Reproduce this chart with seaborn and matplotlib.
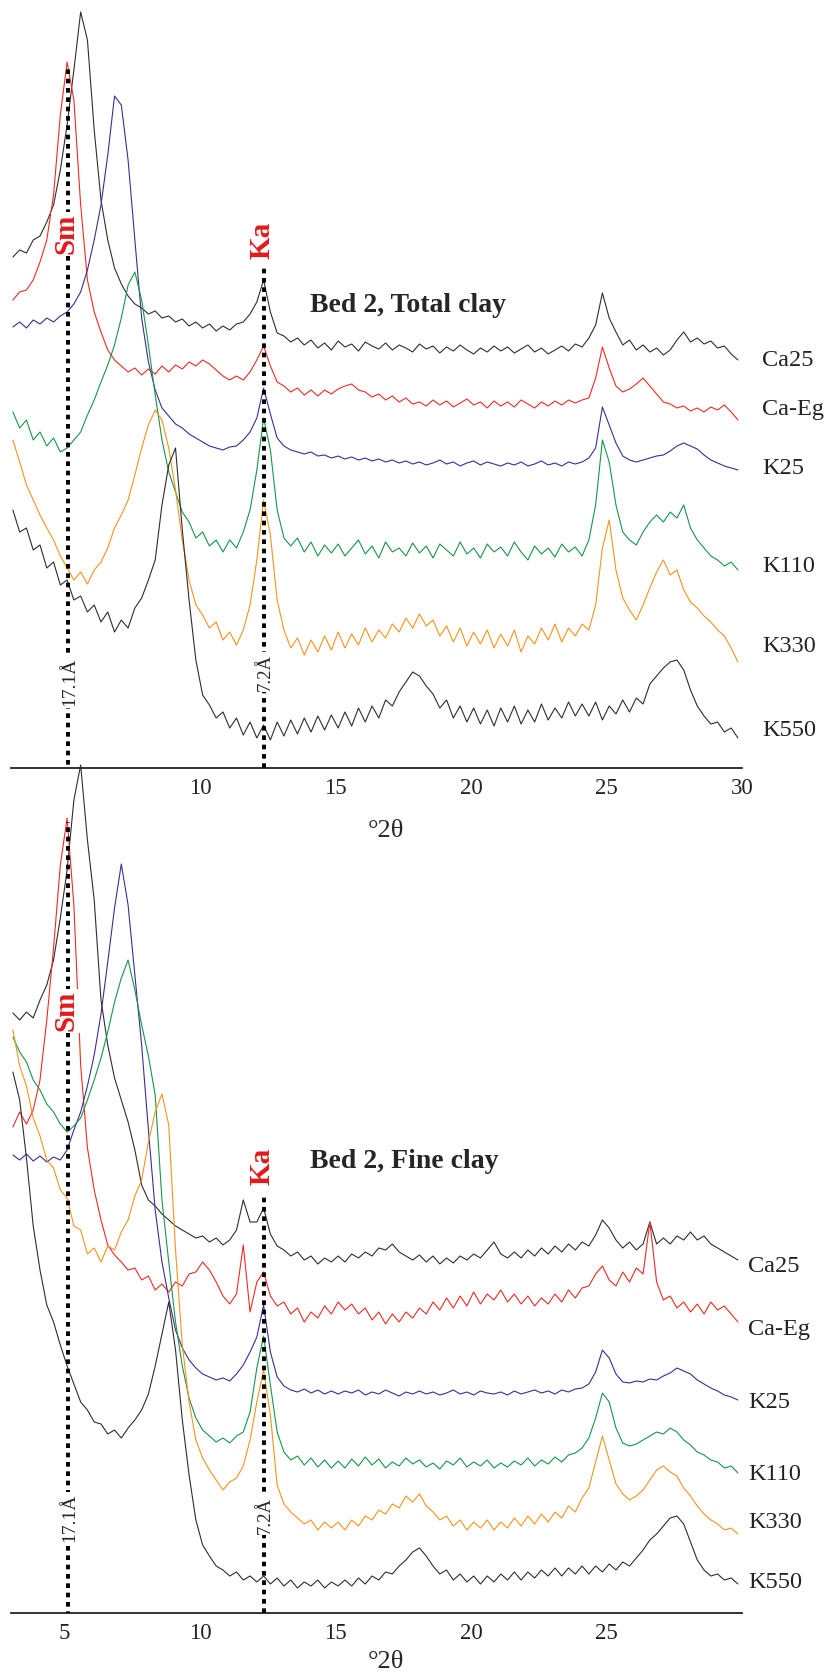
import numpy as np
import pandas as pd
import seaborn as sns
import matplotlib.pyplot as plt
from matplotlib.ticker import MultipleLocator

#%% data (intensity in arbitrary units, offsets included)
two_theta = np.linspace(3.1, 29.85, 108)
samples = ['Ca25', 'Ca-Eg', 'K25', 'K110', 'K330', 'K550']
colors = ['#2e2e2e', '#ee2b22', '#3a2e95', '#17964a', '#f7931e', '#2e2e2e']

# Bed 2, Total clay
total_ca25 = [511, 518, 515, 528, 532, 546, 563, 598, 643, 698, 756, 728,
              638, 568, 528, 500, 484, 472, 464, 460, 454, 457, 450, 452,
              446, 449, 442, 446, 440, 444, 437, 442, 438, 444, 446, 454,
              466, 488, 456, 435, 432, 426, 430, 423, 428, 420, 425, 418,
              427, 421, 424, 417, 426, 422, 419, 425, 418, 423, 420, 416,
              424, 419, 422, 415, 421, 417, 423, 418, 414, 420, 416, 422,
              417, 421, 415, 419, 423, 416, 420, 414, 418, 422, 417, 424,
              421, 430, 443, 475, 450, 436, 423, 428, 418, 423, 416, 420,
              413, 418, 428, 436, 426, 430, 424, 427, 420, 422, 414, 408]
total_caeg = [468, 476, 478, 488, 506, 528, 573, 653, 706, 668, 563, 488,
              456, 436, 418, 408, 402, 396, 400, 393, 399, 394, 402, 396,
              403, 399, 406, 402, 408, 404, 398, 392, 388, 392, 388, 396,
              408, 422, 402, 386, 382, 376, 380, 373, 378, 372, 378, 374,
              379, 382, 384, 378, 376, 371, 374, 368, 372, 366, 370, 364,
              366, 362, 368, 363, 367, 361, 365, 369, 363, 366, 360, 367,
              362, 366, 361, 368, 364, 360, 366, 362, 367, 363, 368, 365,
              368, 370, 390, 421, 400, 382, 376, 379, 384, 390, 382, 374,
              366, 364, 360, 362, 357, 360, 356, 361, 358, 363, 356, 348]
total_k25 = [441, 446, 440, 448, 444, 450, 446, 452, 456, 464, 476, 498,
             528, 563, 613, 672, 663, 608, 528, 450, 406, 378, 360, 352,
             344, 340, 334, 330, 326, 322, 320, 318, 321, 322, 328, 336,
             350, 380, 354, 330, 322, 318, 316, 314, 316, 312, 313, 310,
             312, 309, 311, 308, 310, 307, 309, 306, 308, 305, 307, 304,
             306, 303, 305, 308, 304, 306, 302, 305, 307, 303, 306, 304,
             302, 305, 303, 306, 302, 304, 307, 303, 305, 302, 306, 304,
             306, 310, 320, 361, 343, 325, 312, 308, 306, 308, 310, 312,
             313, 317, 322, 325, 322, 319, 313, 308, 305, 302, 300, 298]
total_k110 = [356, 340, 348, 328, 336, 322, 330, 316, 320, 328, 336, 353,
              368, 386, 403, 423, 450, 483, 496, 468, 423, 373, 328, 296,
              276, 256, 246, 230, 236, 222, 228, 216, 228, 220, 236, 258,
              298, 350, 318, 258, 230, 222, 230, 216, 226, 212, 223, 215,
              224, 212, 220, 228, 214, 222, 210, 226, 216, 220, 212, 225,
              215, 222, 210, 224, 218, 212, 226, 214, 220, 210, 224, 216,
              221, 212, 226, 216, 208, 222, 214, 220, 211, 224, 216, 221,
              212, 228, 263, 328, 306, 263, 236, 228, 223, 236, 246, 253,
              246, 256, 250, 263, 240, 228, 220, 212, 208, 202, 206, 198]
total_k330 = [328, 306, 283, 268, 253, 240, 228, 212, 200, 188, 196, 184,
              198, 206, 220, 240, 253, 268, 293, 320, 343, 358, 348, 320,
              278, 228, 188, 163, 153, 140, 146, 128, 136, 123, 138, 163,
              208, 268, 233, 168, 138, 120, 130, 113, 128, 116, 132, 118,
              136, 120, 134, 123, 140, 126, 138, 130, 144, 136, 150, 140,
              154, 142, 148, 132, 142, 126, 140, 122, 136, 124, 138, 120,
              134, 122, 138, 116, 132, 124, 140, 128, 144, 126, 140, 132,
              144, 138, 163, 220, 248, 198, 170, 158, 148, 163, 180, 196,
              208, 193, 198, 178, 166, 160, 152, 146, 138, 132, 120, 106]
total_k550 = [258, 236, 240, 218, 223, 200, 206, 183, 188, 168, 172, 156,
              163, 146, 156, 136, 148, 140, 160, 170, 188, 208, 263, 303,
              320, 238, 168, 108, 73, 63, 50, 56, 40, 50, 33, 46,
              30, 43, 28, 46, 32, 48, 34, 50, 36, 52, 38, 53,
              40, 56, 42, 60, 46, 62, 50, 68, 62, 76, 86, 96,
              92, 82, 74, 60, 68, 50, 62, 46, 60, 44, 58, 42,
              60, 46, 62, 44, 58, 46, 64, 48, 60, 50, 66, 52,
              64, 52, 66, 48, 62, 54, 68, 56, 70, 64, 84, 92,
              100, 106, 108, 98, 78, 62, 52, 44, 46, 36, 40, 30]

# Bed 2, Fine clay
fine_ca25 = [600, 593, 601, 595, 613, 628, 653, 695, 743, 813, 848, 773,
             713, 613, 568, 535, 513, 491, 463, 428, 413, 407, 399, 393,
             387, 383, 379, 375, 377, 371, 375, 368, 373, 383, 413, 391,
             391, 405, 379, 367, 363, 357, 361, 353, 357, 349, 355, 351,
             357, 351, 359, 355, 361, 357, 365, 363, 369, 361, 357, 353,
             358, 351, 357, 349, 355, 350, 357, 353, 359, 355, 363, 371,
             359, 355, 361, 355, 363, 357, 365, 359, 367, 361, 369, 363,
             371, 367, 378, 393, 385, 373, 365, 371, 363, 369, 391, 369,
             375, 369, 377, 373, 381, 373, 377, 369, 365, 361, 357, 353]
fine_caeg = [486, 501, 489, 503, 533, 593, 665, 748, 795, 708, 548, 465,
             423, 393, 368, 358, 351, 343, 345, 333, 337, 323, 329, 321,
             331, 327, 339, 341, 351, 343, 331, 317, 309, 319, 368, 301,
             331, 341, 317, 307, 311, 299, 305, 291, 301, 295, 307, 299,
             311, 303, 309, 299, 305, 293, 301, 289, 299, 291, 301, 295,
             305, 299, 311, 303, 315, 305, 317, 307, 321, 309, 319, 313,
             323, 311, 319, 309, 317, 307, 315, 309, 319, 311, 323, 315,
             325, 327, 339, 347, 333, 327, 341, 331, 345, 339, 391, 331,
             313, 317, 305, 311, 301, 309, 299, 311, 303, 307, 299, 291]
fine_k25 = [458, 453, 459, 452, 457, 451, 456, 453, 463, 483, 501, 527,
            558, 599, 651, 705, 749, 708, 638, 568, 483, 403, 351, 315,
            283, 265, 253, 245, 239, 236, 233, 235, 232, 239, 248, 261,
            276, 308, 261, 236, 227, 223, 221, 224, 220, 223, 219, 222,
            219, 222, 220, 223, 218, 221, 219, 223, 220, 217, 221, 219,
            222, 219, 221, 218, 220, 223, 219, 221, 218, 222, 220, 219,
            221, 218, 222, 219, 221, 223, 220, 222, 219, 223, 221, 224,
            225, 229, 241, 263, 255, 239, 231, 230, 232, 231, 234, 233,
            237, 240, 245, 242, 239, 233, 229, 225, 222, 218, 216, 213]
fine_k110 = [576, 561, 551, 533, 523, 509, 501, 489, 481, 487, 495, 513,
             533, 555, 581, 611, 635, 653, 623, 588, 557, 518, 413, 351,
             291, 247, 215, 195, 183, 177, 171, 175, 170, 177, 181, 201,
             245, 277, 228, 181, 161, 153, 157, 148, 155, 146, 153, 145,
             152, 145, 154, 147, 156, 148, 154, 145, 151, 147, 155, 149,
             153, 146, 150, 144, 152, 148, 155, 146, 151, 147, 153, 145,
             150, 146, 152, 148, 155, 147, 153, 149, 156, 151, 158, 160,
             165, 175, 195, 220, 211, 185, 170, 167, 169, 173, 177, 181,
             179, 185, 181, 173, 168, 161, 158, 153, 151, 145, 147, 140]
fine_k330 = [583, 547, 527, 495, 477, 453, 445, 423, 415, 387, 383, 359,
             365, 351, 367, 363, 381, 393, 417, 433, 471, 501, 519, 488,
             363, 268, 211, 173, 155, 143, 133, 123, 131, 135, 147, 173,
             211, 243, 198, 128, 109, 101, 95, 89, 93, 83, 91, 85,
             91, 83, 93, 87, 97, 93, 103, 99, 109, 105, 117, 111,
             119, 107, 101, 93, 97, 87, 93, 83, 91, 85, 93, 83,
             91, 85, 95, 87, 97, 89, 99, 91, 101, 95, 107, 101,
             115, 125, 151, 177, 153, 129, 119, 113, 117, 123, 133, 143,
             147, 141, 137, 125, 117, 107, 99, 93, 89, 83, 85, 79]
fine_k550 = [541, 513, 455, 387, 343, 308, 291, 268, 247, 229, 211, 203,
             191, 189, 179, 183, 175, 185, 193, 203, 219, 247, 279, 311,
             263, 193, 138, 93, 68, 57, 47, 43, 37, 41, 33, 37,
             31, 37, 29, 35, 27, 33, 25, 31, 27, 33, 25, 31,
             27, 33, 27, 35, 29, 37, 33, 41, 39, 47, 53, 61,
             65, 57, 47, 39, 43, 33, 39, 31, 37, 29, 37, 31,
             39, 33, 41, 33, 41, 35, 43, 37, 45, 37, 45, 39,
             47, 39, 47, 41, 49, 43, 51, 47, 55, 63, 73, 79,
             87, 95, 97, 89, 71, 53, 43, 37, 39, 33, 35, 29]

total = [total_ca25, total_caeg, total_k25, total_k110, total_k330, total_k550]
fine = [fine_ca25, fine_caeg, fine_k25, fine_k110, fine_k330, fine_k550]


def long_df(series):
    frames = []
    for name, vals in zip(samples, series):
        frames.append(pd.DataFrame({'two_theta': two_theta, 'intensity': vals, 'sample': name}))
    return pd.concat(frames, ignore_index=True)


#%% figure
sns.set_style('white')
plt.rcParams['font.family'] = ['Liberation Serif', 'DejaVu Serif']
palette = dict(zip(samples, colors))

W, H = 830, 1675
fig = plt.figure(figsize=(8.3, 16.75), dpi=100)
ax1 = fig.add_axes([11 / W, 1 - 768 / H, 731 / W, 768 / H])
ax2 = fig.add_axes([11 / W, 1 - 1613 / H, 731 / W, (1613 - 740) / H])

panels = [(ax1, total, 768, 'Bed 2, Total clay', 463),
          (ax2, fine, 873, 'Bed 2, Fine clay', 451)]

for ax, series, top, title, title_y in panels:
    ax.set_facecolor('none')
    sns.lineplot(data=long_df(series), x='two_theta', y='intensity', hue='sample',
                 palette=palette, estimator=None, legend=False, linewidth=0.8, ax=ax)
    ax.set_xlim(3.03, 30)
    ax.set_ylim(0, top)
    ax.set_xlabel('')
    ax.set_ylabel('')
    ax.set_yticks([])
    for s in ['left', 'right', 'top']:
        ax.spines[s].set_visible(False)
    ax.spines['bottom'].set_linewidth(1.3)
    ax.spines['bottom'].set_color('#222222')
    ax.xaxis.set_minor_locator(MultipleLocator(1))
    ax.tick_params(axis='x', which='both', direction='out', length=5, width=1.1,
                   colors='#222222', labelsize=16.5, pad=2)
    ax.text(14.06, title_y, title, fontsize=20, fontweight='bold', ha='left', va='center')

ax1.set_xticks([5, 10, 15, 20, 25, 30])
ax1.set_xticklabels(['', '10', '15', '20', '25', '30'])
ax2.set_xticks([5, 10, 15, 20, 25])
ax2.set_xticklabels(['5', '10', '15', '20', '25'])

# dotted reference lines for smectite (17.1 A) and kaolinite (7.2 A)
dots = dict(color='black', linewidth=2.8, linestyles=(0, (1.2, 1.2)), zorder=4)
ax1.vlines(5.15, -6, 703, **dots)
ax1.vlines(12.35, 0, 503, **dots)
ax2.vlines(5.15, -3, 791, **dots)
ax2.vlines(12.35, 0, 420, **dots)

box = dict(facecolor='white', edgecolor='none', pad=1)
for ax, sm_y, ka_y, d1_y, d2_y in [(ax1, 534, 528, 86, 96), (ax2, 602, 447, 95, 98)]:
    ax.text(5.05, sm_y, 'Sm', color='#e3191b', fontsize=21, fontweight='bold',
            rotation=90, ha='center', va='center', bbox=box, zorder=5)
    ax.text(12.3, ka_y, 'Ka', color='#e3191b', fontsize=21, fontweight='bold',
            rotation=90, ha='center', va='center', bbox=box, zorder=5)
    ax.text(5.2, d1_y, '17.1Å', fontsize=14, rotation=90, ha='center', va='center',
            bbox=box, zorder=5)
    ax.text(12.4, d2_y, '7.2Å', fontsize=13.5, rotation=90, ha='center', va='center',
            bbox=box, zorder=5)

# sample names at the right end of each trace
for name, y in zip(samples, [408, 358, 300, 201, 121, 38]):
    ax1.text(30.74, y, name, fontsize=17.5, color='#222222', ha='left', va='center', clip_on=False)
for name, y in zip(samples, [346, 283, 210, 138, 91, 31]):
    ax2.text(30.22, y, name, fontsize=17.5, color='#222222', ha='left', va='center', clip_on=False)

fig.text(386 / W, 1 - 831 / H, '°2θ', fontsize=19, ha='center', va='center')
fig.text(386 / W, 1 - 1662 / H, '°2θ', fontsize=19, ha='center', va='center')

fig.savefig('out.png', dpi=100)
